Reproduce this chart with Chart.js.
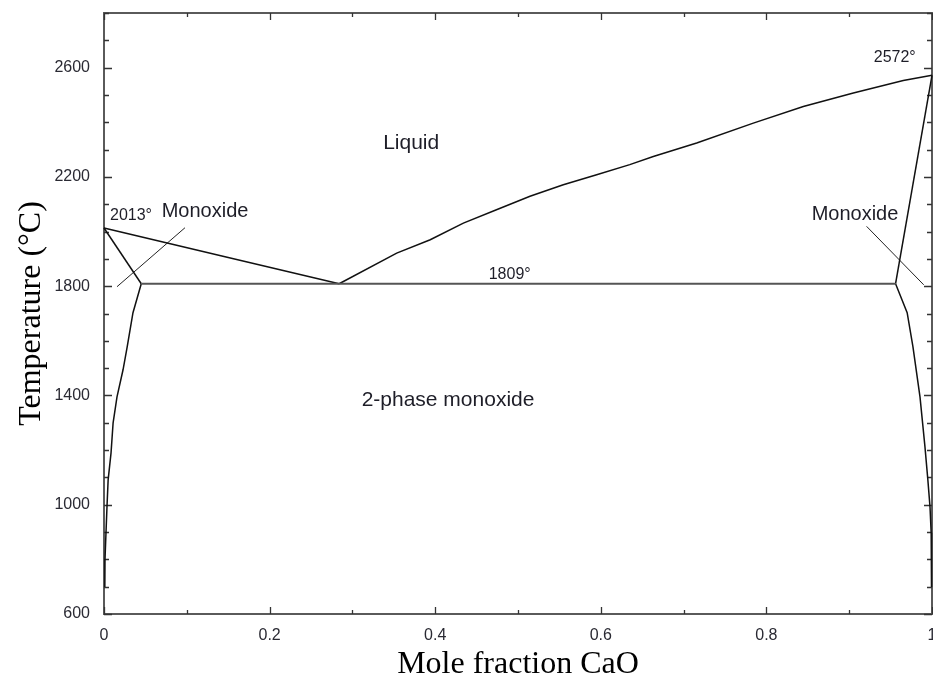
<!DOCTYPE html>
<html>
<head>
<meta charset="utf-8">
<script src="https://cdn.jsdelivr.net/npm/chart.js@4/dist/chart.umd.min.js"></script>
<style>
  html, body { margin: 0; padding: 0; background: #fff; }
  #wrap { width: 933px; height: 681px; position: relative; }
</style>
</head>
<body>
<div id="wrap"><canvas id="c" width="933" height="681"></canvas></div>
<script>
// ---- Data (mole fraction CaO, temperature °C) ----
const liqLeftX  = [0, 0.15, 0.284];
const liqLeftT  = [2013, 1905, 1809];

const liqRightX = [0.284, 0.3535, 0.394, 0.434, 0.474, 0.5145, 0.5547, 0.595, 0.635, 0.6634, 0.7158, 0.7842, 0.8446, 0.905, 0.9653, 1.0];
const liqRightT = [1809, 1921, 1970, 2031, 2080, 2129, 2171, 2208, 2245, 2275, 2324, 2397, 2458, 2507, 2553, 2572];

const solLeftX  = [0, 0.045];
const solLeftT  = [2013, 1809];

const solRightX = [1.0, 0.956];
const solRightT = [2572, 1809];

const solvLeftX = [0.045, 0.035, 0.028, 0.023, 0.0157, 0.011, 0.0085, 0.005, 0.0036, 0.0024, 0.0012, 0.001];
const solvLeftT = [1809, 1703, 1578, 1494, 1395, 1300, 1190, 1091, 992, 897, 800, 699];

const solvRightX = [0.956, 0.970, 0.977, 0.9855, 0.9915, 0.995, 0.9976, 0.999, 0.9993, 0.9995];
const solvRightT = [1809, 1703, 1578, 1395, 1212, 1091, 992, 897, 800, 699];

const eutecticX = [0.045, 0.956];
const eutecticT = [1809, 1809];

const leaderLeftX  = [0.0157, 0.0978];
const leaderLeftT  = [1798, 2014];
const leaderRightX = [0.921, 0.990];
const leaderRightT = [2019, 1805];

const xTickLabels = ['0', '0.2', '0.4', '0.6', '0.8', '1'];
const yTickLabels = ['600', '1000', '1400', '1800', '2200', '2600'];

const regionLabels = ['Liquid', '2-phase monoxide', 'Monoxide', 'Monoxide', '2013°', '2572°', '1809°'];

// ---- helpers ----
function pts(xs, ts) { return xs.map((x, i) => ({ x: x, y: ts[i] })); }
function line(xs, ts, color, width) {
  return { data: pts(xs, ts), showLine: true, pointRadius: 0, borderColor: color,
           borderWidth: width, fill: false, tension: 0, clip: 4 };
}

const datasets = [
  line(eutecticX, eutecticT, '#555555', 2),
  line(liqLeftX, liqLeftT, '#111111', 1.5),
  line(liqRightX, liqRightT, '#111111', 1.5),
  line(solLeftX, solLeftT, '#111111', 1.5),
  line(solRightX, solRightT, '#111111', 1.5),
  line(solvLeftX, solvLeftT, '#111111', 1.5),
  line(solvRightX, solvRightT, '#111111', 1.5),
  line(leaderLeftX, leaderLeftT, '#222222', 1),
  line(leaderRightX, leaderRightT, '#222222', 1)
];

const framePlugin = {
  id: 'frame',
  beforeDatasetsDraw(chart) {
    const { ctx, chartArea: a, scales } = chart;
    ctx.save();
    ctx.strokeStyle = '#5a5a5a';
    ctx.lineWidth = 2;
    ctx.strokeRect(a.left, a.top, a.right - a.left, a.bottom - a.top);
    ctx.strokeStyle = '#333';
    ctx.lineWidth = 1.3;
    ctx.beginPath();
    scales.x.ticks.forEach(t => {
      const px = Math.round(scales.x.getPixelForValue(t.value)) + 0.5;
      const major = Math.abs(Math.round(t.value * 10) % 2) === 0;
      const len = major ? 7 : 4;
      ctx.moveTo(px, a.bottom); ctx.lineTo(px, a.bottom - len);
      ctx.moveTo(px, a.top); ctx.lineTo(px, a.top + len);
    });
    scales.y.ticks.forEach(t => {
      const py = Math.round(scales.y.getPixelForValue(t.value)) + 0.5;
      const major = (Math.round(t.value) - 600) % 400 === 0;
      const len = major ? 8 : 5;
      ctx.moveTo(a.left, py); ctx.lineTo(a.left + len, py);
      ctx.moveTo(a.right, py); ctx.lineTo(a.right - len, py);
    });
    ctx.stroke();
    ctx.restore();
  },
  afterDatasetsDraw(chart) {
    const { ctx, scales } = chart;
    const X = v => scales.x.getPixelForValue(v);
    const Y = v => scales.y.getPixelForValue(v);
    const items = [
      { t: regionLabels[0], x: 0.371, y: 2322, s: 21 },
      { t: regionLabels[1], x: 0.4155, y: 1384, s: 21 },
      { t: regionLabels[2], x: 0.122, y: 2073, s: 20 },
      { t: regionLabels[3], x: 0.907, y: 2062, s: 20 },
      { t: regionLabels[4], x: 0.0326, y: 2058, s: 16 },
      { t: regionLabels[5], x: 0.955, y: 2637, s: 16 },
      { t: regionLabels[6], x: 0.490, y: 1842, s: 16 }
    ];
    ctx.save();
    ctx.fillStyle = '#1e1e28';
    ctx.textAlign = 'center';
    ctx.textBaseline = 'middle';
    items.forEach(it => {
      ctx.font = it.s + 'px "Liberation Sans", Arial, sans-serif';
      ctx.fillText(it.t, X(it.x), Y(it.y));
    });
    ctx.restore();
  }
};

new Chart(document.getElementById('c'), {
  type: 'scatter',
  data: { datasets },
  options: {
    responsive: false,
    animation: false,
    events: [],
    layout: { padding: { top: 13, right: 1, left: 0, bottom: 0 } },
    plugins: { legend: { display: false }, tooltip: { enabled: false } },
    scales: {
      x: {
        type: 'linear', min: 0, max: 1,
        grid: { display: false },
        border: { display: false },
        ticks: {
          stepSize: 0.1, autoSkip: false, maxRotation: 0, padding: 4,
          color: '#2a2a33',
          font: { family: '"Liberation Sans", Arial, sans-serif', size: 16 },
          callback: v => {
            const k = Math.round(v * 10);
            return k % 2 === 0 ? xTickLabels[k / 2] : '';
          }
        },
        title: {
          display: true, text: 'Mole fraction CaO', color: '#000',
          font: { family: '"Liberation Serif", "Times New Roman", serif', size: 32, lineHeight: 1.0 },
          padding: 0
        },
        afterFit: s => { s.height = 67; s.paddingLeft = 0; s.paddingRight = 0; }
      },
      y: {
        type: 'linear', min: 600, max: 2800,
        grid: { display: false },
        border: { display: false },
        ticks: {
          stepSize: 100, autoSkip: false, padding: 6,
          color: '#2a2a33',
          font: { family: '"Liberation Sans", Arial, sans-serif', size: 16 },
          callback: v => {
            const r = Math.round(v);
            return (r - 600) % 400 === 0 ? yTickLabels[(r - 600) / 400] : '';
          }
        },
        title: {
          display: true, text: 'Temperature (°C)', color: '#000',
          font: { family: '"Liberation Serif", "Times New Roman", serif', size: 32 },
          padding: { top: 12, bottom: 0 }
        },
        afterFit: s => { s.width = 104; s.paddingTop = 0; s.paddingBottom = 0; }
      }
    }
  },
  plugins: [framePlugin]
});
</script>
</body>
</html>
